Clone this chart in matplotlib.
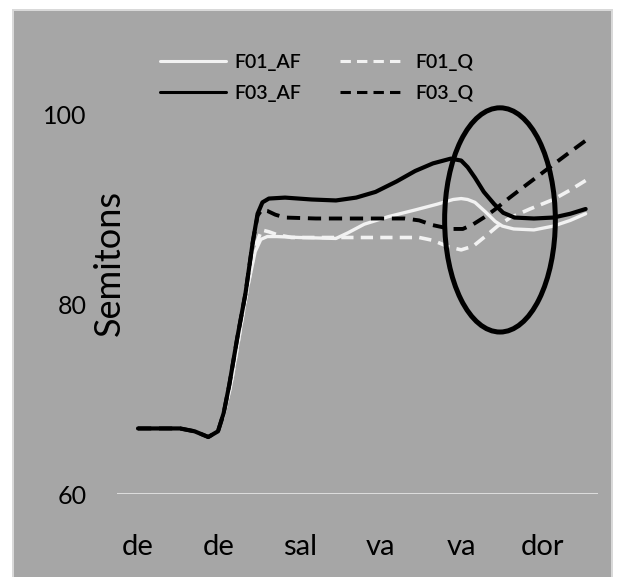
import matplotlib.pyplot as plt
from matplotlib.patches import Ellipse, Rectangle

syllables = ['de', 'de', 'sal', 'va', 'va', 'dor']

# pitch contours, x in syllable units, y in semitones
f03_af_x = [0.0, 0.52, 0.70, 0.87, 0.99, 1.06, 1.13, 1.23, 1.33, 1.42, 1.48, 1.54, 1.62, 1.82,
            2.15, 2.45, 2.70, 2.94, 3.20, 3.43, 3.65, 3.87, 4.00, 4.08, 4.17, 4.28, 4.41, 4.52,
            4.66, 4.90, 5.14, 5.35, 5.54]
f03_af_y = [66.9, 66.9, 66.6, 66.0, 66.6, 68.5, 71.5, 76.5, 81.1, 86.5, 89.5, 90.7, 91.1, 91.2,
            91.0, 90.9, 91.2, 91.8, 92.9, 94.0, 94.8, 95.3, 95.1, 94.4, 93.3, 91.8, 90.5, 89.6,
            89.1, 89.0, 89.1, 89.5, 90.0]

f03_q_x = [0.0, 0.52, 0.70, 0.87, 0.99, 1.06, 1.13, 1.23, 1.33, 1.42, 1.48, 1.53, 1.60, 1.70,
           1.82, 2.20, 2.80, 3.30, 3.48, 3.65, 3.87, 4.02, 4.15, 4.28, 4.41, 4.60, 4.80, 5.05,
           5.30, 5.54]
f03_q_y = [66.9, 66.9, 66.6, 66.0, 66.6, 68.5, 71.5, 76.5, 81.1, 86.5, 89.3, 89.9, 89.8, 89.4,
           89.1, 89.0, 89.0, 89.0, 88.8, 88.3, 87.9, 87.9, 88.4, 89.1, 89.9, 91.2, 92.5, 94.1,
           95.7, 97.2]

f01_af_x = [1.05, 1.15, 1.25, 1.35, 1.45, 1.52, 1.60, 1.72, 2.00, 2.45, 2.60, 2.80, 3.10, 3.43,
            3.70, 3.90, 4.00, 4.08, 4.17, 4.30, 4.42, 4.51, 4.65, 4.90, 5.14, 5.35, 5.54]
f01_af_y = [68.0, 71.5, 76.5, 81.5, 85.5, 86.8, 87.1, 87.1, 87.0, 86.9, 87.5, 88.4, 89.2, 89.9,
            90.5, 91.0, 91.1, 91.0, 90.7, 89.7, 88.7, 88.2, 87.9, 87.8, 88.2, 88.8, 89.5]

f01_q_x = [1.05, 1.15, 1.25, 1.35, 1.45, 1.53, 1.62, 1.72, 1.90, 2.40, 3.00, 3.48, 3.65, 3.85,
           4.00, 4.15, 4.31, 4.45, 4.61, 4.85, 5.14, 5.35, 5.54]
f01_q_y = [68.0, 71.5, 76.5, 81.5, 86.0, 87.8, 87.6, 87.3, 87.0, 87.0, 87.0, 87.0, 86.7, 86.0,
           85.7, 86.1, 87.2, 88.2, 89.1, 90.0, 91.0, 92.0, 93.0]

W, H = 617, 577
fig = plt.figure(figsize=(W / 100, H / 100), dpi=100)
fig.patch.set_facecolor('white')

# gray chart area with its light frame
fig.patches.append(Rectangle((12 / W, 0), (613 - 12) / W, (H - 9) / H, transform=fig.transFigure,
                             facecolor='#d9d9d9', edgecolor='none', zorder=-10))
fig.patches.append(Rectangle((14 / W, 0), (611 - 14) / W, (H - 11) / H, transform=fig.transFigure,
                             facecolor='#a6a6a6', edgecolor='none', zorder=-9))

ax = fig.add_axes([117 / W, (H - 494) / H, (598 - 117) / W, (494 - 100) / H])
ax.set_facecolor('none')
ax.set_xlim((117 - 138) / 80.8, (598 - 138) / 80.8)
ax.set_ylim(60, 60 + 394 / 9.5)
for s in ax.spines.values():
    s.set_visible(False)

ax.axhline(60, color='#e8e8e8', lw=1.2, zorder=1)

ax.plot(f01_af_x, f01_af_y, color='#f2f2f2', lw=2.4, solid_capstyle='round', label='F01_AF', zorder=3)
ax.plot(f01_q_x, f01_q_y, color='#f2f2f2', lw=2.6, dashes=(3.4, 2.0), label='F01_Q', zorder=3)
ax.plot(f03_af_x, f03_af_y, color='black', lw=3.0, solid_capstyle='round', label='F03_AF', zorder=4)
ax.plot(f03_q_x, f03_q_y, color='black', lw=2.8, dashes=(3.4, 2.0), label='F03_Q', zorder=4)

ax.add_patch(Ellipse((4.48, 88.85), 1.37, 23.6, fill=False, edgecolor='black', lw=3.6,
                     clip_on=False, zorder=5))

ax.set_yticks([60, 80, 100])
ax.set_xticks(range(len(syllables)))
ax.set_xticklabels(syllables)
ax.tick_params(axis='y', length=0, pad=22, labelsize=18, labelcolor='black')
ax.tick_params(axis='x', length=0, pad=29, labelsize=21, labelcolor='black')
for lab in ax.get_xticklabels() + ax.get_yticklabels():
    lab.set_family('Lato')

fig.text(109 / W, 1 - 263 / H, 'Semitons', rotation=90, ha='center', va='center',
         fontsize=26, family='Lato')

handles, labels = ax.get_legend_handles_labels()
order = [0, 2, 1, 3]
leg = fig.legend([handles[i] for i in order], [labels[i] for i in order], ncol=2,
                 loc='center left', bbox_to_anchor=(142 / W, 1 - 78 / H), frameon=False,
                 handlelength=3.4, handletextpad=0.45, columnspacing=2.0, labelspacing=0.7,
                 prop={'family': 'Lato', 'size': 14, 'weight': 'semibold'})
for ln in leg.get_lines():
    ln.set_linewidth(2.2)

fig.savefig('out.png', dpi=100)
